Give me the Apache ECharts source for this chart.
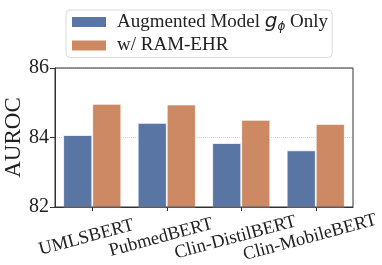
<!DOCTYPE html>
<html><head><meta charset="utf-8">
<script src="https://cdn.jsdelivr.net/npm/echarts@6/dist/echarts.min.js"></script>
<style>html,body{margin:0;padding:0;background:#fff}#c{width:382px;height:265px}</style>
</head><body><div id="c"></div>
<script>
const categories = ['UMLSBERT', 'PubmedBERT', 'Clin-DistilBERT', 'Clin-MobileBERT'];
const augmentedOnly = [84.07, 84.42, 83.84, 83.63];
const withRamEhr = [84.97, 84.95, 84.51, 84.39];
const yTicks = [82, 84, 86];
const seriesNames = ['Augmented Model g_phi Only', 'w/ RAM-EHR'];

const serif = 'Liberation Serif';
const chart = echarts.init(document.getElementById('c'));
chart.setOption({
  animation: false,
  grid: {left: 55, right: 29, top: 68, bottom: 58, containLabel: false, outerBoundsMode: 'none'},
  legend: {
    left: 66, top: 10, orient: 'vertical',
    itemWidth: 36, itemHeight: 12, itemGap: 3,
    padding: [2, 4, 2, 4],
    borderColor: '#dcdcdc', borderWidth: 1, borderRadius: 4,
    icon: 'rect',
    data: seriesNames,
    formatter: function (n) {
      if (n === seriesNames[0]) return '{a|Augmented Model }{i|g}{s|ϕ}{a| Only}';
      return '{a|' + n + '}';
    },
    textStyle: {
      fontFamily: serif, fontSize: 19, color: '#222', lineHeight: 20,
      padding: [0, 0, 0, 5],
      rich: {
        a: {fontFamily: serif, fontSize: 19, color: '#222'},
        i: {fontFamily: 'DejaVu Sans', fontStyle: 'italic', fontSize: 20, color: '#222'},
        s: {fontFamily: 'DejaVu Sans', fontStyle: 'italic', fontSize: 12, color: '#222', padding: [9, 0, 0, 0]}
      }
    }
  },
  xAxis: {
    type: 'category', data: categories,
    axisLine: {show: true, lineStyle: {color: '#333', width: 1}},
    axisTick: {show: true, alignWithLabel: true, length: 4, lineStyle: {color: '#333'}},
    axisLabel: {
      rotate: 15, fontFamily: serif, fontSize: 18.5, color: '#222',
      align: 'center', verticalAlign: 'middle', margin: 29, interval: 0,
      padding: [0, 12, 0, 0]
    }
  },
  yAxis: {
    type: 'value', min: 82, max: 86, interval: 2,
    name: 'AUROC', nameLocation: 'middle', nameGap: 30, nameMoveOverlap: false,
    nameTextStyle: {fontFamily: serif, fontSize: 23, color: '#222'},
    axisLine: {show: true, lineStyle: {color: '#333', width: 1}},
    axisTick: {show: true, length: 5, lineStyle: {color: '#333'}},
    axisLabel: {fontFamily: serif, fontSize: 20, color: '#222', margin: 6,
      formatter: v => yTicks.includes(v) ? String(v) : ''},
    splitLine: {show: true, lineStyle: {color: '#d0d0d0', type: 'dotted', width: 1}}
  },
  series: [
    {name: seriesNames[0], type: 'bar', data: augmentedOnly, barGap: '0%', barCategoryGap: '22%',
     itemStyle: {color: '#5875a4', borderColor: '#fff', borderWidth: 0.8}},
    {name: seriesNames[1], type: 'bar', data: withRamEhr,
     itemStyle: {color: '#cc8963', borderColor: '#fff', borderWidth: 0.8}}
  ],
  graphic: [{type: 'rect', shape: {x: 55, y: 68, width: 298, height: 139}, style: {fill: 'none', stroke: '#333', lineWidth: 1}, silent: true, z: 10}]
});
</script></body></html>
